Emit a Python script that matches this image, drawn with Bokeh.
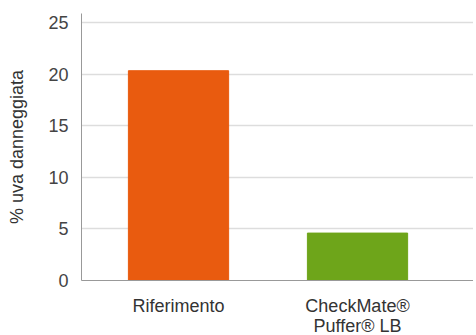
from bokeh.plotting import figure
from bokeh.embed import file_html
from bokeh.resources import INLINE
from bokeh.models import Range1d, FixedTicker, ColumnDataSource

categories = ["Riferimento", "CheckMate®\nPuffer® LB"]
values = [20.35, 4.6]
colors = ["#E95B0F", "#6EA51A"]
positions = [1, 2]
y_ticks = [0, 5, 10, 15, 20, 25]

src = ColumnDataSource(dict(x=positions, top=values, color=colors))

p = figure(frame_width=392, frame_height=267, output_backend="svg", toolbar_location=None,
           x_range=Range1d(0.458, 2.648), y_range=Range1d(0, 25.9),
           min_border_left=81, min_border_top=13, min_border_bottom=10, min_border_right=0)
p.outline_line_color = None
p.vbar(x="x", top="top", width=0.56, color="color", source=src)

font = "Liberation Sans"
p.xaxis.ticker = FixedTicker(ticks=positions)
p.xaxis.major_label_overrides = {pos: cat for pos, cat in zip(positions, categories)}
p.xaxis.major_tick_line_color = None
p.xaxis.minor_tick_line_color = None
p.xaxis.axis_line_color = "#999999"
p.xaxis.major_label_text_font = font
p.xaxis.major_label_text_font_size = "18px"
p.xaxis.major_label_text_color = "#333333"
p.xaxis.major_label_text_line_height = 1.0
p.xaxis.major_label_standoff = 9

p.yaxis.ticker = FixedTicker(ticks=y_ticks)
p.yaxis.major_tick_line_color = None
p.yaxis.minor_tick_line_color = None
p.yaxis.axis_line_color = "#999999"
p.yaxis.major_label_text_font = font
p.yaxis.major_label_text_font_size = "18px"
p.yaxis.major_label_text_color = "#444444"
p.yaxis.major_label_standoff = 7
p.yaxis.axis_label = "% uva danneggiata"
p.yaxis.axis_label_text_font = font
p.yaxis.axis_label_text_font_size = "18px"
p.yaxis.axis_label_text_font_style = "normal"
p.yaxis.axis_label_text_color = "#333333"
p.yaxis.axis_label_standoff = 18

p.xgrid.grid_line_color = None
p.ygrid.grid_line_color = "#dddddd"
p.ygrid.grid_line_width = 1.5

open("out.html", "w").write(file_html(p, INLINE))
